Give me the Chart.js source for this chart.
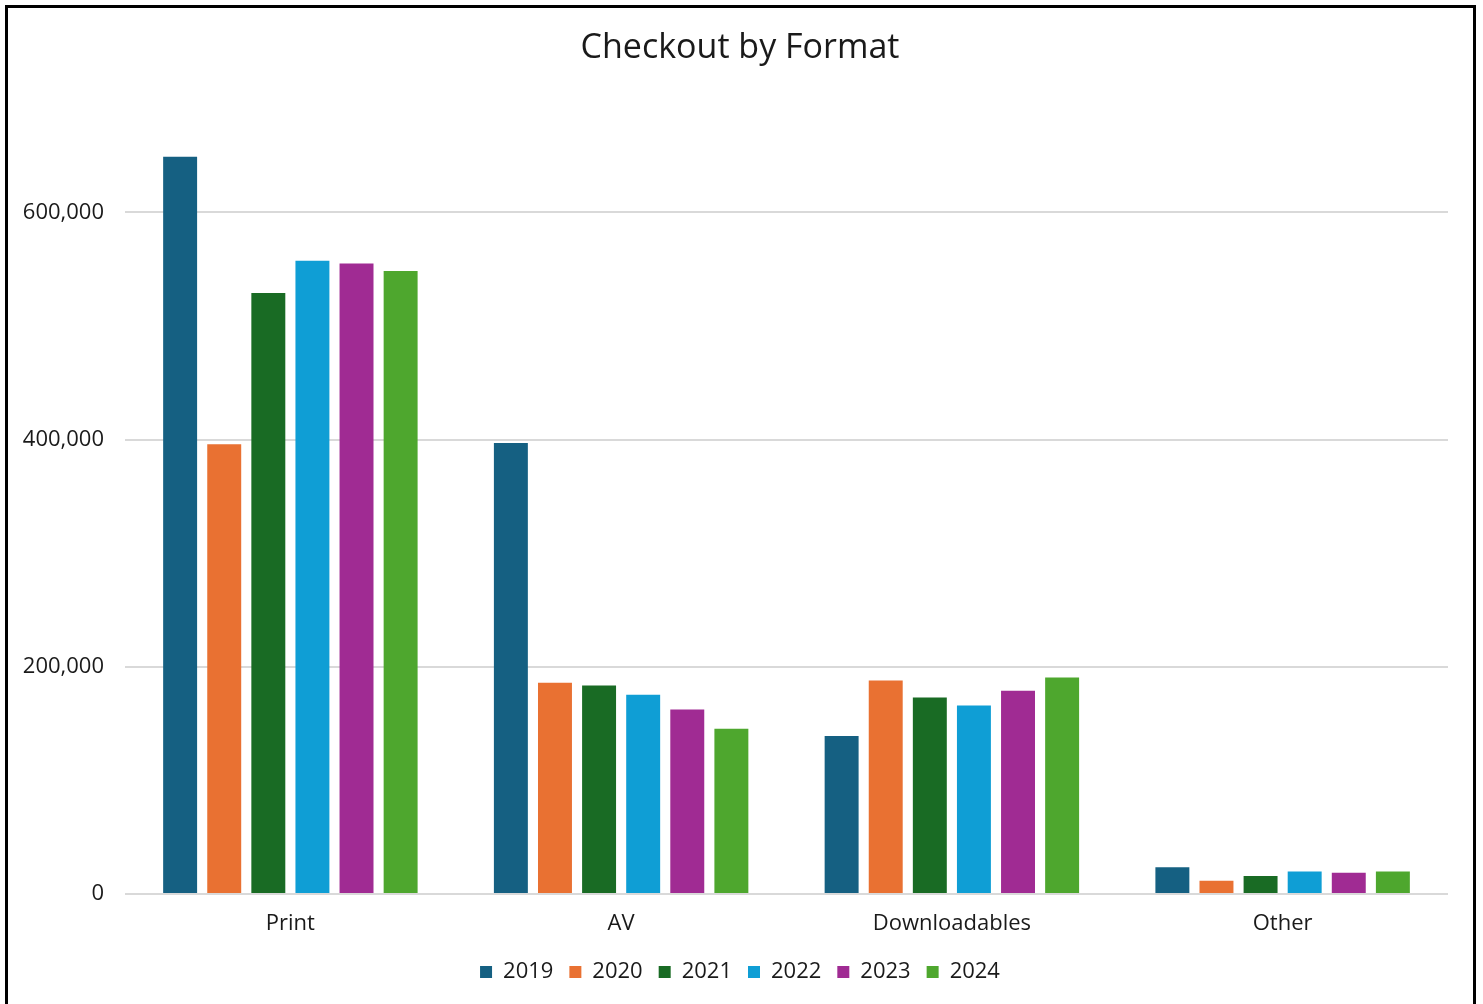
<!DOCTYPE html>
<html>
<head>
  <title>Checkout by Format</title>
  <script src="https://cdn.jsdelivr.net/npm/chart.js"></script>
  <style>
    body {
      margin: 0;
      background: #fff;
      overflow: hidden;
    }
    .wrap {
      position: absolute;
      left: 0;
      top: 0;
      width: 1483px;
      height: 1004px;
    }
    .frame {
      position: absolute;
      left: 5px;
      top: 5px;
      width: 1465px;
      height: 1020px;
      border: 3px solid #000;
      pointer-events: none;
    }
  </style>
</head>
<body>
  <div class="wrap">
    <canvas id="formatChart" width="1483" height="1004"></canvas>
  </div>
  <div class="frame"></div>

  <script>
    const categories = ['Print', 'AV', 'Downloadables', 'Other'];
    const years = ['2019', '2020', '2021', '2022', '2023', '2024'];
    const colors = ['#156082', '#E97132', '#196B24', '#0F9ED5', '#A02B93', '#4EA72E'];

    // one array per year, in category order
    const v2019 = [649000, 397000, 139000, 23500];
    const v2020 = [396000, 186000, 188000, 11700];
    const v2021 = [529000, 183500, 173000, 15900];
    const v2022 = [557500, 175500, 166000, 19700];
    const v2023 = [555000, 162500, 179000, 18800];
    const v2024 = [548500, 145500, 190500, 19700];
    const yTicks = [0, 200000, 400000, 600000];

    const series = [v2019, v2020, v2021, v2022, v2023, v2024];
    const font = "'Open Sans', 'Liberation Sans', sans-serif";

    const ctx = document.getElementById('formatChart').getContext('2d');
    new Chart(ctx, {
      type: 'bar',
      data: {
        labels: categories,
        datasets: years.map((y, i) => ({
          label: y,
          data: series[i],
          backgroundColor: colors[i],
          borderWidth: 0,
          categoryPercentage: 0.8,
          barPercentage: 0.77
        }))
      },
      options: {
        responsive: false,
        animation: false,
        // left/right roughly even so title + legend sit in the middle of the frame
        layout: { padding: { left: 10, right: 13, top: 18, bottom: 11 } },
        plugins: {
          title: {
            display: true,
            text: 'Checkout by Format',
            color: '#1a1a1a',
            font: { family: font, size: 34, weight: 'normal' },
            padding: { top: 10, bottom: 30 }
          },
          legend: {
            position: 'bottom',
            labels: {
              color: '#1a1a1a',
              font: { family: font, size: 22 },
              boxWidth: 12,
              boxHeight: 12,
              padding: 16
            }
          },
          tooltip: { enabled: false }
        },
        scales: {
          x: {
            grid: { display: false, drawTicks: false },
            border: { display: false },
            ticks: { color: '#1a1a1a', font: { family: font, size: 22 }, padding: 17 },
            afterFit: s => { s.height = 51; }
          },
          y: {
            min: 0,
            max: 700000,
            grid: { color: '#d9d9d9', lineWidth: 2, drawTicks: false },
            border: { display: false },
            ticks: {
              color: '#1a1a1a',
              font: { family: font, size: 22 },
              padding: 21,
              stepSize: 200000,
              callback: v => v.toLocaleString('en-US')
            },
            afterBuildTicks: s => { s.ticks = yTicks.map(v => ({ value: v })); },
            afterFit: s => { s.width = 115; }
          },
          // empty right gutter
          gutter: {
            type: 'linear',
            position: 'right',
            grid: { display: false, drawTicks: false },
            border: { display: false },
            ticks: { display: false },
            afterFit: s => { s.width = 22; }
          }
        }
      }
    });
  </script>
</body>
</html>
